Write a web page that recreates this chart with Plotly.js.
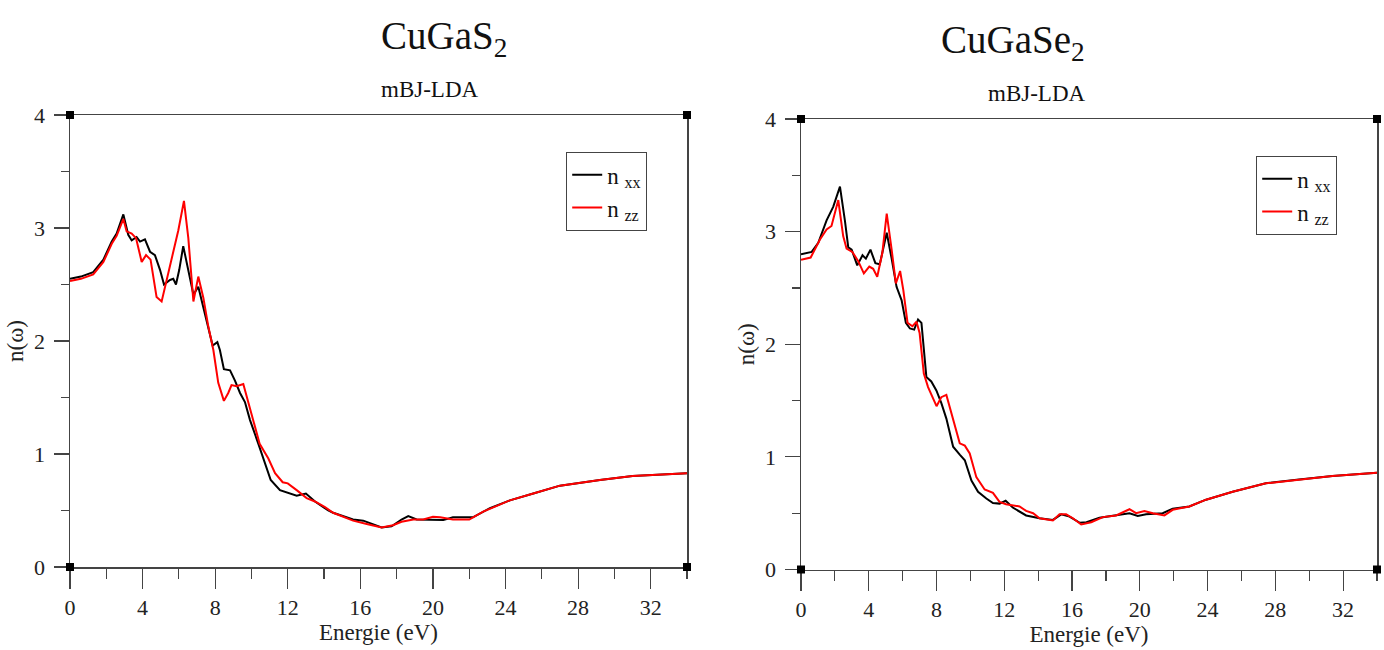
<!DOCTYPE html>
<html>
<head>
<meta charset="utf-8">
<script src="https://cdn.plot.ly/plotly-3.0.1.min.js"></script>
<style>html,body{margin:0;padding:0;background:#fff;}#chart{width:1384px;height:650px;}</style>
</head>
<body>
<div id="chart"></div>
<script>
// ---------- Data ----------
// CuGaS2, n_xx
const s_xx_E = [0, 0.6, 1.28, 1.84, 2.3, 2.57, 2.94, 3.21, 3.4, 3.67, 3.86, 4.13, 4.41, 4.68, 4.96, 5.18, 5.51, 5.69, 5.84, 6.02, 6.24, 6.52, 6.8, 7.07, 7.35, 7.62, 7.86, 8.12, 8.26, 8.48, 8.82, 9.09, 9.37, 9.64, 9.92, 10.38, 10.74, 11.06, 11.57, 12.49, 13.0, 13.5, 14.23, 14.5, 15.6, 16.16, 17.17, 17.72, 18.27, 18.64, 19.1, 19.83, 20.57, 21.1, 22.2, 23.14, 24.24, 25.53, 27.0, 29.2, 31.0, 34.0];
const s_xx_n = [2.55, 2.57, 2.61, 2.72, 2.88, 2.95, 3.12, 2.94, 2.89, 2.92, 2.88, 2.90, 2.79, 2.76, 2.63, 2.50, 2.54, 2.55, 2.50, 2.63, 2.84, 2.63, 2.41, 2.48, 2.30, 2.13, 1.96, 1.99, 1.92, 1.75, 1.74, 1.65, 1.54, 1.46, 1.30, 1.09, 0.92, 0.77, 0.68, 0.63, 0.65, 0.58, 0.50, 0.48, 0.42, 0.41, 0.35, 0.36, 0.42, 0.45, 0.42, 0.415, 0.415, 0.44, 0.44, 0.52, 0.59, 0.65, 0.72, 0.77, 0.805, 0.83];
// CuGaS2, n_zz
const s_zz_E = [0, 0.6, 1.28, 1.84, 2.3, 2.57, 2.94, 3.12, 3.4, 3.64, 3.95, 4.19, 4.44, 4.77, 5.05, 5.33, 5.6, 5.97, 6.28, 6.52, 6.8, 7.07, 7.35, 7.62, 7.9, 8.17, 8.48, 8.72, 8.9, 9.18, 9.55, 9.83, 10.1, 10.45, 10.93, 11.3, 11.72, 12.0, 12.49, 13.04, 13.5, 14.05, 14.5, 15.6, 16.35, 17.17, 17.8, 18.27, 18.92, 19.47, 20.0, 20.4, 21.1, 22.0, 22.77, 24.24, 25.53, 27.0, 29.2, 31.0, 34.0];
const s_zz_n = [2.53, 2.55, 2.59, 2.70, 2.86, 2.93, 3.08, 2.97, 2.95, 2.91, 2.70, 2.76, 2.72, 2.39, 2.35, 2.55, 2.73, 2.98, 3.24, 2.91, 2.35, 2.57, 2.38, 2.13, 1.92, 1.63, 1.47, 1.54, 1.61, 1.60, 1.62, 1.45, 1.30, 1.09, 0.96, 0.83, 0.75, 0.74, 0.68, 0.61, 0.58, 0.53, 0.48, 0.41, 0.38, 0.35, 0.37, 0.40, 0.42, 0.42, 0.445, 0.44, 0.42, 0.42, 0.49, 0.59, 0.65, 0.72, 0.77, 0.805, 0.83];
// CuGaSe2, n_xx
const se_xx_E = [0, 0.63, 1.02, 1.51, 1.9, 2.3, 2.59, 2.79, 2.99, 3.32, 3.63, 3.83, 4.1, 4.39, 4.65, 5.06, 5.35, 5.64, 5.94, 6.19, 6.43, 6.68, 6.91, 7.11, 7.4, 7.69, 7.99, 8.28, 8.58, 8.98, 9.37, 9.67, 10.06, 10.45, 10.94, 11.33, 11.72, 12.08, 12.5, 13.29, 14.08, 14.87, 15.36, 15.85, 16.46, 16.85, 17.62, 18.4, 19.39, 19.88, 20.37, 21.35, 21.94, 22.92, 23.91, 25.48, 27.44, 29.4, 31.37, 34.0];
const se_xx_n = [2.80, 2.82, 2.90, 3.10, 3.22, 3.40, 3.10, 2.86, 2.84, 2.70, 2.79, 2.76, 2.84, 2.72, 2.71, 2.99, 2.76, 2.51, 2.39, 2.19, 2.14, 2.13, 2.22, 2.19, 1.71, 1.67, 1.59, 1.48, 1.34, 1.09, 1.02, 0.97, 0.79, 0.69, 0.63, 0.59, 0.585, 0.61, 0.55, 0.48, 0.455, 0.44, 0.49, 0.47, 0.415, 0.42, 0.46, 0.475, 0.50, 0.475, 0.49, 0.50, 0.54, 0.56, 0.62, 0.69, 0.765, 0.80, 0.83, 0.86];
// CuGaSe2, n_zz
const se_zz_E = [0, 0.57, 1.12, 1.51, 1.8, 2.2, 2.49, 2.69, 3.03, 3.37, 3.71, 4.03, 4.26, 4.5, 4.8, 5.06, 5.35, 5.6, 5.85, 6.04, 6.29, 6.58, 6.82, 7.0, 7.25, 7.5, 8.0, 8.28, 8.58, 8.98, 9.37, 9.67, 9.96, 10.35, 10.84, 11.33, 11.72, 12.1, 12.9, 13.29, 13.7, 14.08, 14.87, 15.26, 15.65, 16.05, 16.54, 17.13, 17.82, 18.6, 19.39, 19.78, 20.27, 20.77, 21.45, 21.94, 22.92, 23.91, 25.48, 27.44, 29.4, 31.37, 34.0];
const se_zz_n = [2.75, 2.77, 2.93, 3.02, 3.05, 3.28, 2.96, 2.85, 2.82, 2.74, 2.63, 2.69, 2.67, 2.60, 2.81, 3.16, 2.84, 2.54, 2.65, 2.48, 2.19, 2.16, 2.20, 2.10, 1.74, 1.62, 1.45, 1.53, 1.55, 1.34, 1.12, 1.10, 1.03, 0.82, 0.71, 0.68, 0.60, 0.58, 0.56, 0.52, 0.50, 0.455, 0.435, 0.49, 0.49, 0.455, 0.40, 0.42, 0.465, 0.48, 0.535, 0.50, 0.52, 0.50, 0.48, 0.53, 0.56, 0.62, 0.69, 0.765, 0.80, 0.83, 0.86];

const panelTitles = ["CuGaS<sub>2</sub>", "CuGaSe<sub>2</sub>"];
const subTitle = "mBJ-LDA";
const seriesNames = ["n <sub>xx</sub>", "n <sub>zz</sub>"];
const xTitle = "Energie (eV)";
const yTitle = "n(\u03c9)";

// ---------- Plot ----------
const FONT = '"Liberation Serif", "Times New Roman", Times, serif';
const lineW = 2;
const traces = [
  {x: s_xx_E, y: s_xx_n, name: seriesNames[0], xaxis: "x", yaxis: "y", legend: "legend", line: {color: "#000000", width: lineW}},
  {x: s_zz_E, y: s_zz_n, name: seriesNames[1], xaxis: "x", yaxis: "y", legend: "legend", line: {color: "#ff0000", width: lineW}},
  {x: se_xx_E, y: se_xx_n, name: seriesNames[0], xaxis: "x2", yaxis: "y2", legend: "legend2", line: {color: "#000000", width: lineW}},
  {x: se_zz_E, y: se_zz_n, name: seriesNames[1], xaxis: "x2", yaxis: "y2", legend: "legend2", line: {color: "#ff0000", width: lineW}}
].map(t => Object.assign({type: "scatter", mode: "lines", hoverinfo: "skip"}, t));

function xax(domain, anchor) {
  return {
    domain: domain, anchor: anchor, range: [0, 34], tickmode: "linear", tick0: 0, dtick: 4,
    ticks: "outside", ticklen: 20, tickwidth: 1.2, tickcolor: "#444",
    minor: {dtick: 2, ticks: "outside", ticklen: 10, tickwidth: 1.2, tickcolor: "#444"},
    showline: true, linecolor: "#444", linewidth: 1.5, mirror: true, showgrid: false, zeroline: false,
    tickfont: {family: FONT, size: 22, color: "#222"},
    title: {text: xTitle, font: {family: FONT, size: 23, color: "#222"}, standoff: 2}
  };
}
function yax(domain, anchor) {
  return {
    domain: domain, anchor: anchor, range: [0, 4], tickmode: "linear", tick0: 0, dtick: 1,
    ticks: "outside", ticklen: 15, tickwidth: 1.2, tickcolor: "#444",
    minor: {dtick: 0.5, ticks: "outside", ticklen: 8, tickwidth: 1.2, tickcolor: "#444"},
    showline: true, linecolor: "#444", linewidth: 1.5, mirror: true, showgrid: false, zeroline: false,
    tickfont: {family: FONT, size: 22, color: "#222"}, ticklabelstandoff: 4,
    title: {text: yTitle, font: {family: FONT, size: 23, color: "#222"}, standoff: 4}
  };
}

const W = 1384, H = 650;
const px = v => v / W, py = v => 1 - v / H;

const shapes = [];
[["x", "y"], ["x2", "y2"]].forEach(([xa, ya]) => {
  [0, 1].forEach(cx => [0, 1].forEach(cy => {
    shapes.push({type: "rect", xref: xa + " domain", yref: ya + " domain",
      xsizemode: "pixel", ysizemode: "pixel", xanchor: cx, yanchor: cy,
      x0: -4, x1: 4, y0: -4, y1: 4, fillcolor: "#000", line: {width: 0}});
  }));
});

const titleFont = {family: FONT, size: 39, color: "#111"};
const subFont = {family: FONT, size: 23, color: "#111"};
const annotations = [
  {text: panelTitles[0], x: px(379), y: py(12), yanchor: "top", xref: "paper", yref: "paper", showarrow: false, font: titleFont},
  {text: subTitle, x: px(379), y: py(75), yanchor: "top", xref: "paper", yref: "paper", showarrow: false, font: subFont},
  {text: panelTitles[1], x: px(1087), y: py(16), yanchor: "top", xref: "paper", yref: "paper", showarrow: false, font: titleFont},
  {text: subTitle, x: px(1088), y: py(79), yanchor: "top", xref: "paper", yref: "paper", showarrow: false, font: subFont}
];

const legendBase = {
  xanchor: "left", yanchor: "top", bgcolor: "#fff", bordercolor: "#444", borderwidth: 1.2,
  font: {family: FONT, size: 23, color: "#111"}, itemwidth: 30, tracegroupgap: 0
};

const layout = {
  width: W, height: H, paper_bgcolor: "#fff", plot_bgcolor: "#fff",
  margin: {l: 0, r: 0, t: 0, b: 0}, showlegend: true,
  xaxis: xax([px(70), px(687)], "y"),
  yaxis: yax([1 - 567 / H, 1 - 115 / H], "x"),
  xaxis2: xax([px(801), px(1377)], "y2"),
  yaxis2: yax([1 - 569.5 / H, 1 - 119 / H], "x2"),
  legend: Object.assign({x: px(566), y: py(152)}, legendBase),
  legend2: Object.assign({x: px(1256), y: py(156)}, legendBase),
  shapes: shapes,
  annotations: annotations
};

Plotly.newPlot("chart", traces, layout, {displayModeBar: false, staticPlot: true});
</script>
</body>
</html>
